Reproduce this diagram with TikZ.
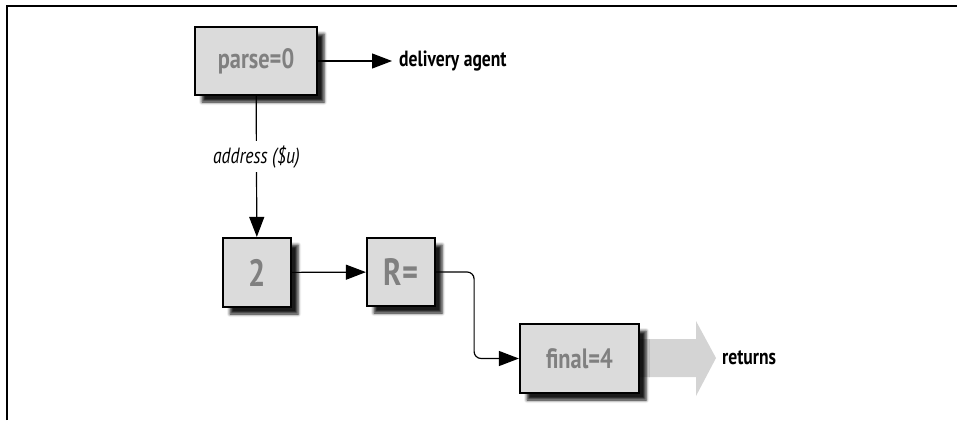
\documentclass[tikz,border=0pt]{standalone}
\usepackage{fontspec}
\setmainfont{PT Sans}[FakeStretch=0.8]
\usetikzlibrary{arrows.meta,shadows.blur}

\tikzset{
  state/.style={draw=black, line width=2.2pt, fill=black!14, text=black!50,
    font=\bfseries\fontsize{28}{32}\selectfont, inner sep=0pt,
    blur shadow={shadow xshift=7pt, shadow yshift=-7pt, shadow blur radius=3pt, shadow opacity=90}},
  big/.style={font=\bfseries\fontsize{38}{40}\selectfont},
  conn/.style={line width=1.2pt, -{Triangle[length=20pt,width=15pt]}},
  lbl/.style={font=\bfseries\fontsize{22}{24}\selectfont, inner sep=0pt, anchor=west}
}

\begin{document}
\begin{tikzpicture}[x=1pt,y=-1pt]
	\useasboundingbox (0,0) rectangle (957,420);
	\draw[line width=1.6pt] (7,420) -- (7,6) -- (957,6);

	\fill[black!17] (630,339) -- (696,339) -- (696,321) -- (716,358) -- (696,396) -- (696,377) -- (630,377) -- cycle;

	\node[state, minimum width=122pt, minimum height=68pt] at (256,61) (parse) {parse=0};
	\node[state, big, minimum width=68pt, minimum height=69pt] at (257,272.5) (two) {2};
	\node[state, big, minimum width=68pt, minimum height=68pt] at (401,272) (rset) {R=};
	\node[state, minimum width=119pt, minimum height=69pt] at (579.5,358.5) (final) {final=4};

	\node[lbl] at (399,61) (agent) {delivery agent};
	\node[lbl] at (722,358) (ret) {returns};

	\draw[conn, shorten >=7pt] (parse) -- (agent);
	\draw[conn] (parse) -- node[pos=0.43, fill=white, inner sep=4pt, font=\itshape\fontsize{22}{24}\selectfont] (addr) {address (\$u)} (two);
	\draw[conn] (two) -- (rset);
	\draw[conn, rounded corners=7pt] (rset.east) -- ++(38,0) |- (final.west);
\end{tikzpicture}
\end{document}
